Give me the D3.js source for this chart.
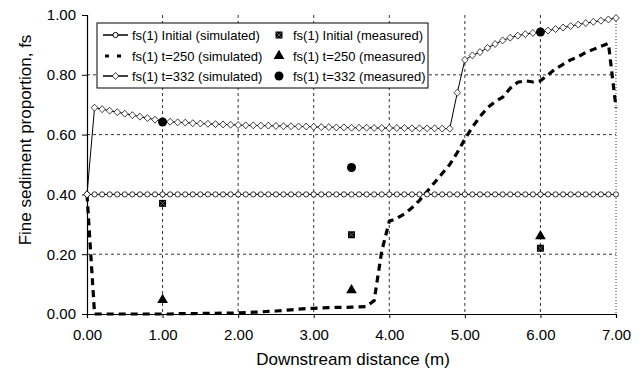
<!DOCTYPE html>
<html>
<head>
<meta charset="utf-8">
<script src="https://cdn.jsdelivr.net/npm/d3@7"></script>
<style>
  body { margin: 0; background: #fff; }
  svg { font-family: "Liberation Sans", Arial, sans-serif; }
</style>
</head>
<body>
<svg class="chartSVG" width="644" height="373"></svg>
<script>
// distance along flume (m), simulated nodes
const distance = [
  0.0, 0.1, 0.2, 0.3, 0.4, 0.5, 0.6, 0.7, 0.8, 0.9,
  1.0, 1.1, 1.2, 1.3, 1.4, 1.5, 1.6, 1.7, 1.8, 1.9,
  2.0, 2.1, 2.2, 2.3, 2.4, 2.5, 2.6, 2.7, 2.8, 2.9,
  3.0, 3.1, 3.2, 3.3, 3.4, 3.5, 3.6, 3.7, 3.8, 3.9,
  4.0, 4.1, 4.2, 4.3, 4.4, 4.5, 4.6, 4.7, 4.8, 4.9,
  5.0, 5.1, 5.2, 5.3, 5.4, 5.5, 5.6, 5.7, 5.8, 5.9,
  6.0, 6.1, 6.2, 6.3, 6.4, 6.5, 6.6, 6.7, 6.8, 6.9,
  7.0
];
const fsInitialSim = [
  0.40, 0.40, 0.40, 0.40, 0.40, 0.40, 0.40, 0.40, 0.40, 0.40,
  0.40, 0.40, 0.40, 0.40, 0.40, 0.40, 0.40, 0.40, 0.40, 0.40,
  0.40, 0.40, 0.40, 0.40, 0.40, 0.40, 0.40, 0.40, 0.40, 0.40,
  0.40, 0.40, 0.40, 0.40, 0.40, 0.40, 0.40, 0.40, 0.40, 0.40,
  0.40, 0.40, 0.40, 0.40, 0.40, 0.40, 0.40, 0.40, 0.40, 0.40,
  0.40, 0.40, 0.40, 0.40, 0.40, 0.40, 0.40, 0.40, 0.40, 0.40,
  0.40, 0.40, 0.40, 0.40, 0.40, 0.40, 0.40, 0.40, 0.40, 0.40,
  0.40
];
const fsT250Sim = [
  0.40, 0.000, 0.000, 0.000, 0.000, 0.000, 0.000, 0.000, 0.000, 0.000,
  0.000, 0.000, 0.001, 0.001, 0.001, 0.002, 0.002, 0.002, 0.003, 0.003,
  0.004, 0.005, 0.006, 0.007, 0.009, 0.010, 0.012, 0.014, 0.016, 0.018,
  0.019, 0.020, 0.021, 0.022, 0.022, 0.023, 0.024, 0.025, 0.045, 0.21,
  0.31, 0.32, 0.335, 0.355, 0.38, 0.41, 0.44, 0.47, 0.50, 0.54,
  0.585, 0.625, 0.66, 0.69, 0.71, 0.725, 0.755, 0.775, 0.78, 0.776,
  0.78, 0.80, 0.82, 0.835, 0.85, 0.86, 0.875, 0.885, 0.895, 0.905,
  0.69
];
const fsT332Sim = [
  0.40, 0.69, 0.685, 0.68, 0.675, 0.67, 0.665, 0.66, 0.655, 0.65,
  0.645, 0.643, 0.641, 0.640, 0.638, 0.637, 0.636, 0.635, 0.634, 0.633,
  0.632, 0.631, 0.631, 0.630, 0.630, 0.629, 0.628, 0.628, 0.627, 0.627,
  0.626, 0.625, 0.625, 0.624, 0.624, 0.623, 0.623, 0.623, 0.622, 0.622,
  0.622, 0.622, 0.622, 0.621, 0.621, 0.621, 0.621, 0.620, 0.620, 0.74,
  0.85, 0.865, 0.876, 0.89, 0.903, 0.915, 0.924, 0.931, 0.936, 0.940,
  0.943, 0.948, 0.953, 0.958, 0.963, 0.968, 0.973, 0.977, 0.981, 0.985,
  0.99
];

// measured samples
const measuredDistance = [1.0, 3.5, 6.0];
const fsInitialMeas = [0.37, 0.265, 0.22];
const fsT250Meas = [0.047, 0.08, 0.26];
const fsT332Meas = [0.642, 0.49, 0.943];

const xTicks = [0, 1, 2, 3, 4, 5, 6, 7];
const yTicks = [0, 0.2, 0.4, 0.6, 0.8, 1.0];

const legendLeft = ["fs(1) Initial (simulated)", "fs(1) t=250 (simulated)", "fs(1) t=332 (simulated)"];
const legendRight = ["fs(1) Initial (measured)", "fs(1) t=250 (measured)", "fs(1) t=332 (measured)"];

const svg = d3.select(".chartSVG");
const margin = { left: 87, right: 28, top: 15, bottom: 59 };
const W = 644, H = 373;

const x = d3.scaleLinear().domain([0, 7]).range([margin.left, W - margin.right]);
const y = d3.scaleLinear().domain([0, 1]).range([H - margin.bottom, margin.top]);

// grid
const grid = svg.append("g").attr("stroke", "#000").attr("stroke-width", 0.8).attr("fill", "none");
grid.selectAll(".vg")
  .data(xTicks.filter(d => d > 0))
  .join("line")
  .attr("x1", d => x(d)).attr("x2", d => x(d))
  .attr("y1", y(1)).attr("y2", y(0))
  .attr("stroke-dasharray", d => d == 7 ? "1,2" : "3,3");
grid.selectAll(".hg")
  .data(yTicks.filter(d => d > 0 && d < 1))
  .join("line")
  .attr("x1", x(0)).attr("x2", x(7))
  .attr("y1", d => y(d)).attr("y2", d => y(d))
  .attr("stroke-dasharray", "3,3");

// axes
const xAxis = svg.append("g")
  .attr("transform", `translate(0,${y(0)})`)
  .call(d3.axisBottom(x).tickValues(xTicks).tickFormat(d3.format(".2f")).tickSize(4).tickPadding(11));
const yAxis = svg.append("g")
  .attr("transform", `translate(${x(0)},0)`)
  .call(d3.axisLeft(y).tickValues(yTicks).tickFormat(d3.format(".2f")).tickSize(5).tickPadding(6));
[xAxis, yAxis].forEach(a => {
  a.select(".domain").attr("stroke", "#000").attr("stroke-width", 1.2);
  a.selectAll("line").attr("stroke", "#000");
  a.selectAll("text").attr("font-size", 15).attr("fill", "#000");
});

svg.append("text")
  .attr("x", 353).attr("y", 365)
  .attr("text-anchor", "middle").attr("font-size", 17)
  .text("Downstream distance (m)");
svg.append("text")
  .attr("transform", `translate(31,140) rotate(-90)`)
  .attr("text-anchor", "middle").attr("font-size", 17)
  .text("Fine sediment proportion, fs");

// lines
const line = d3.line().x((d, i) => x(distance[i])).y(d => y(d));

svg.append("path").datum(fsT250Sim)
  .attr("d", line).attr("fill", "none").attr("stroke", "#000")
  .attr("stroke-width", 3.2).attr("stroke-dasharray", "7,5");

svg.append("path").datum(fsInitialSim)
  .attr("d", line).attr("fill", "none").attr("stroke", "#000").attr("stroke-width", 1);
svg.append("g").selectAll("circle")
  .data(fsInitialSim)
  .join("circle")
  .attr("cx", (d, i) => x(distance[i])).attr("cy", d => y(d))
  .attr("r", 2.6).attr("fill", "#fff").attr("stroke", "#000").attr("stroke-width", 0.8);

svg.append("path").datum(fsT332Sim)
  .attr("d", line).attr("fill", "none").attr("stroke", "#000").attr("stroke-width", 1);
const diamond = d3.symbol().type(d3.symbolDiamond).size(22);
svg.append("g").selectAll("path")
  .data(fsT332Sim)
  .join("path")
  .attr("d", diamond)
  .attr("transform", (d, i) => `translate(${x(distance[i])},${y(d)}) scale(1.3,0.8)`)
  .attr("fill", "#fff").attr("stroke", "#000").attr("stroke-width", 0.7);

// measured markers
function bowtie(g) {
  g.append("rect").attr("x", -3.5).attr("y", -3.5).attr("width", 7).attr("height", 7).attr("fill", "#000");
  g.append("path").attr("d", "M-2.5,-2.5L2.5,2.5M2.5,-2.5L-2.5,2.5").attr("stroke", "#777").attr("stroke-width", 0.8);
}
function triangle(g) {
  g.append("path").attr("d", d3.symbol().type(d3.symbolTriangle).size(50)).attr("fill", "#000");
}
function dot(g) {
  g.append("circle").attr("r", 4.5).attr("fill", "#000");
}

const meas = [
  { vals: fsInitialMeas, draw: bowtie },
  { vals: fsT250Meas, draw: triangle },
  { vals: fsT332Meas, draw: dot }
];
meas.forEach(m => {
  m.vals.forEach((v, i) => {
    const g = svg.append("g").attr("transform", `translate(${x(measuredDistance[i])},${y(v)})`);
    m.draw(g);
  });
});

// legend
const lg = svg.append("g").attr("transform", "translate(97,23)");
lg.append("rect").attr("width", 331).attr("height", 65)
  .attr("fill", "#fff").attr("stroke", "#000").attr("stroke-width", 1);
const rowY = [12, 33, 53];
lg.selectAll(".lt")
  .data(legendLeft)
  .join("text")
  .attr("x", 35).attr("y", (d, i) => rowY[i] + 4.5)
  .attr("font-size", 13).text(d => d);
lg.selectAll(".rt")
  .data(legendRight)
  .join("text")
  .attr("x", 196).attr("y", (d, i) => rowY[i] + 4.5)
  .attr("font-size", 13).text(d => d);

// legend symbols, left column
lg.append("line").attr("x1", 6).attr("x2", 31).attr("y1", rowY[0]).attr("y2", rowY[0]).attr("stroke", "#000").attr("stroke-width", 1.5);
lg.append("circle").attr("cx", 18.5).attr("cy", rowY[0]).attr("r", 2.6).attr("fill", "#fff").attr("stroke", "#000");
lg.append("line").attr("x1", 6).attr("x2", 31).attr("y1", rowY[1]).attr("y2", rowY[1]).attr("stroke", "#000")
  .attr("stroke-width", 3).attr("stroke-dasharray", "4,8").attr("stroke-dashoffset", -2);
lg.append("line").attr("x1", 6).attr("x2", 31).attr("y1", rowY[2]).attr("y2", rowY[2]).attr("stroke", "#000").attr("stroke-width", 1.5);
lg.append("path").attr("d", diamond).attr("transform", `translate(18.5,${rowY[2]}) scale(1.3,0.8)`)
  .attr("fill", "#fff").attr("stroke", "#000").attr("stroke-width", 0.7);

// right column
[bowtie, triangle, dot].forEach((f, i) => {
  f(lg.append("g").attr("transform", `translate(182,${rowY[i]})`));
});
</script>
</body>
</html>
